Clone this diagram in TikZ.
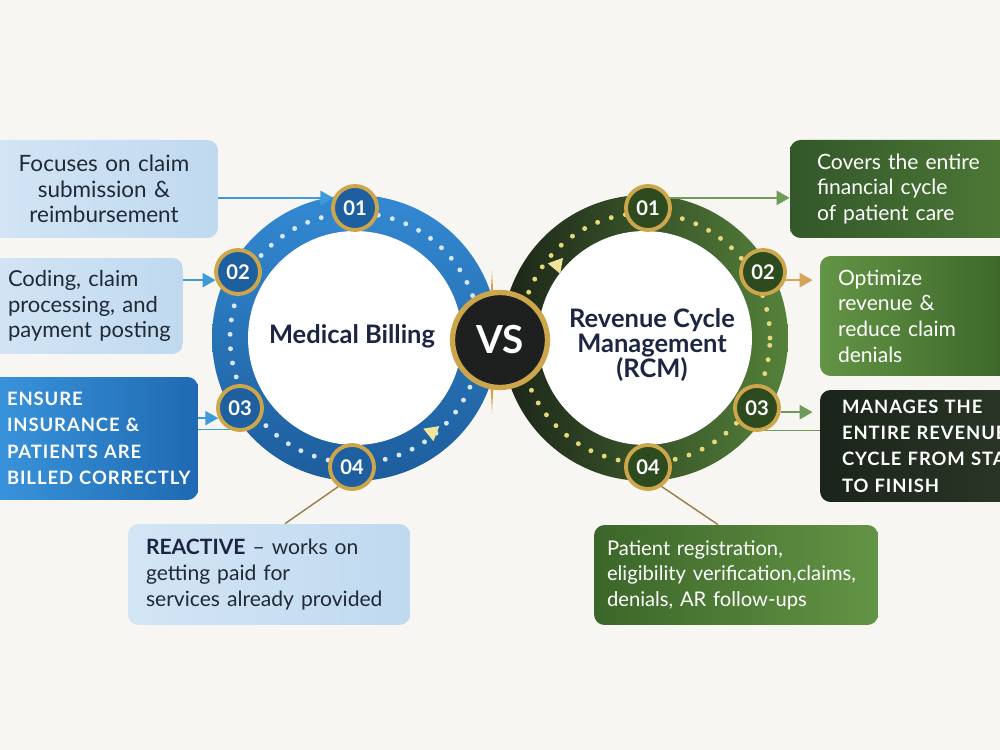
\documentclass[tikz,border=0pt]{standalone}
\usepackage{fontspec}
\setmainfont{Lato}
\usetikzlibrary{arrows.meta,positioning,shapes.geometric}

\definecolor{pagebg}{HTML}{F8F6F2}
\definecolor{navytext}{HTML}{1C2541}
\definecolor{boxtext}{HTML}{1F2A36}
\definecolor{palebluea}{HTML}{D3E5F5}
\definecolor{paleblueb}{HTML}{C0D9EF}
\definecolor{midblue}{HTML}{3A95DC}
\definecolor{deepblue}{HTML}{1F6AB2}
\definecolor{ringbluea}{HTML}{3389D2}
\definecolor{ringblueb}{HTML}{1D5D9C}
\definecolor{badgeblue}{HTML}{1D5F9F}
\definecolor{arrowblue}{HTML}{3E9BD8}
\definecolor{dotblue}{HTML}{D6E7F6}
\definecolor{ringgreena}{HTML}{1B2518}
\definecolor{ringgreenb}{HTML}{55823A}
\definecolor{badgegreen}{HTML}{2D4B1F}
\definecolor{dotgold}{HTML}{E8D87C}
\definecolor{goldrim}{HTML}{CDA64C}
\definecolor{linkbrown}{HTML}{9A7C4C}
\definecolor{arrowgreen}{HTML}{6F9A57}
\definecolor{arrowamber}{HTML}{D6A458}
\definecolor{greena}{HTML}{33572A}
\definecolor{greenb}{HTML}{4D7936}
\definecolor{greenc}{HTML}{639445}
\definecolor{greend}{HTML}{3B6629}
\definecolor{nighta}{HTML}{1B241A}
\definecolor{nightb}{HTML}{2E3A2B}
\definecolor{vsblack}{HTML}{1E201F}
\definecolor{tricream}{HTML}{F1E59A}

\begin{document}
\hyphenpenalty=10000
\begin{tikzpicture}[x=0.02cm,y=0.02cm]
\tikzset{
  infobox/.style={rounded corners=6pt,inner ysep=0pt,align=left,text=boxtext,
    font=\fontsize{12}{14.6}\selectfont},
  palebox/.style={infobox,left color=palebluea,right color=paleblueb},
  capsbox/.style={infobox,text=white,
    font=\bfseries\fontsize{10.5}{15}\selectfont\addfontfeature{LetterSpace=5}},
  badge/.style={circle,minimum size=0.88cm,inner sep=0pt,draw=goldrim,line width=2.2pt,
    text=white,font=\bfseries\fontsize{11.5}{11.5}\selectfont},
  bluebadge/.style={badge,fill=badgeblue},
  greenbadge/.style={badge,fill=badgegreen},
  ringtitle/.style={align=center,text=navytext,font=\bfseries\fontsize{14.5}{14.4}\selectfont},
  dotring/.style={line width=2.8pt,line cap=round,dash pattern=on 0pt off 8.2pt},
  flowtri/.style={isosceles triangle,isosceles triangle apex angle=60,fill=tricream,
    inner sep=0pt,minimum height=0.28cm,minimum width=0.3cm},
  pointer/.style={line width=1.4pt,-{Triangle[length=2.6mm,width=2.8mm]}},
  leader/.style={line width=0.8pt,draw=linkbrown}
}
\useasboundingbox (0,0) rectangle (1000,750);
\fill[pagebg] (0,0) rectangle (1000,750);
\clip (0,0) rectangle (1000,750);

\coordinate (lc) at (355,412);
\coordinate (rc) at (645,412);

% gold sparkle behind the VS badge
\fill[goldrim] (492,480) .. controls (495,420) .. (565,410) .. controls (495,400) .. (492,336)
  .. controls (489,400) .. (425,410) .. controls (489,420) .. (492,480) -- cycle;

% rings
\shade[top color=ringbluea,bottom color=ringblueb] (lc) circle (2.86cm);
\fill[white] (lc) circle (2.14cm);
\draw[dotring,draw=dotblue] (lc) circle (2.5cm);
\shade[left color=ringgreena,right color=ringgreenb] (rc) circle (2.86cm);
\fill[white] (rc) circle (2.14cm);
\draw[dotring,draw=dotgold] (rc) circle (2.5cm);
\node[flowtri,rotate=39] (ltri) at (432,318) {};
\node[flowtri,rotate=50] (rtri) at (557,485) {};

% ring titles
\node[ringtitle] (mbtitle) at (352,414) {Medical Billing};
\node[ringtitle] (rcmtitle) at (652,405) {Revenue Cycle\\Management\\(RCM)};

% versus badge
\node[circle,minimum size=1.9cm,inner sep=0pt,fill=vsblack,draw=goldrim,line width=3pt,
  text=white,font=\bfseries\fontsize{22}{22}\selectfont] (vs) at (500,410) {VS};

% step badges
\node[bluebadge] (l01) at (355,542) {01};
\node[bluebadge] (l02) at (238,478) {02};
\node[bluebadge] (l03) at (240,342) {03};
\node[bluebadge] (l04) at (352,283) {04};
\node[greenbadge] (r01) at (648,542) {01};
\node[greenbadge] (r02) at (763,478) {02};
\node[greenbadge] (r03) at (757,342) {03};
\node[greenbadge] (r04) at (648,283) {04};

% left boxes
\node[palebox,align=center,inner xsep=0.2cm,text width=4.16cm,minimum height=1.96cm,
  font=\fontsize{12.8}{14.6}\selectfont] (lb1) at (104,561)
  {Focuses on~claim\\submission~\&\\reimbursement};
\node[palebox,inner xsep=0.36cm,text width=3.14cm,minimum height=1.92cm,
  font=\fontsize{12.5}{14.6}\selectfont] (lb2) at (86.5,444)
  {Coding,~claim\\processing,~and\\payment~posting};
\node[capsbox,left color=midblue,right color=deepblue,inner xsep=0.34cm,text width=3.48cm,
  minimum height=2.46cm] (lb3) at (94,311.5)
  {ENSURE\\INSURANCE~\&\\PATIENTS~ARE\\BILLED~CORRECTLY};
\node[palebox,inner xsep=0.36cm,text width=4.92cm,minimum height=2.02cm] (lb4) at (269,175.5)
  {\textbf{\color{navytext}REACTIVE} --~works~on\\getting~paid~for\\services~already~provided};

% right boxes
\node[infobox,text=white,left color=greena,right color=greenb,inner xsep=0.54cm,text width=3.32cm,
  minimum height=1.96cm] (rb1) at (900,561)
  {Covers~the~entire\\financial~cycle\\of~patient~care};
\node[infobox,text=white,left color=greenc,right color=greend,inner xsep=0.36cm,text width=3.08cm,
  minimum height=2.4cm] (rb2) at (915,434)
  {Optimize\\revenue~\&\\reduce~claim\\denials};
\node[capsbox,left color=nighta,right color=nightb,inner xsep=0.44cm,text width=3.92cm,
  minimum height=2.24cm] (rb3) at (940,304)
  {MANAGES~THE\\ENTIRE~REVENUE\\CYCLE~FROM~START\\TO~FINISH};
\node[infobox,text=white,left color=greend,right color=greenc,inner xsep=0.26cm,text width=5.16cm,
  minimum height=2cm,font=\fontsize{11.5}{14.6}\selectfont] (rb4) at (736,175)
  {Patient~registration,\\eligibility~verification,claims,\\denials,~AR~follow-ups};

% connectors
\draw[pointer,draw=arrowblue] (lb1.east |- l01.155) -- (l01.155);
\draw[pointer,draw=arrowblue] (lb2.east |- l02.200) -- (l02.200);
\draw[pointer,draw=arrowblue] (lb3.east |- l03.205) -- (l03.205);
\draw[line width=0.9pt,draw=arrowblue] (lb3.east |- l03.245) -- (l03.245);
\draw[leader] (l04.235) -- ([xshift=0.32cm]lb4.north);
\draw[pointer,draw=arrowgreen] (r01.25) -- (rb1.west |- r01.25);
\draw[pointer,draw=arrowamber,shorten >=4pt] (r02.-20) -- (rb2.west |- r02.-20);
\draw[pointer,draw=arrowgreen,shorten >=4pt] (r03.-10) -- (rb3.west |- r03.-10);
\draw[line width=0.9pt,draw=arrowgreen] (r03.-70) -- (rb3.west |- r03.-70);
\draw[leader] (r04.-55) -- ([xshift=-0.36cm]rb4.north);
\end{tikzpicture}
\end{document}
